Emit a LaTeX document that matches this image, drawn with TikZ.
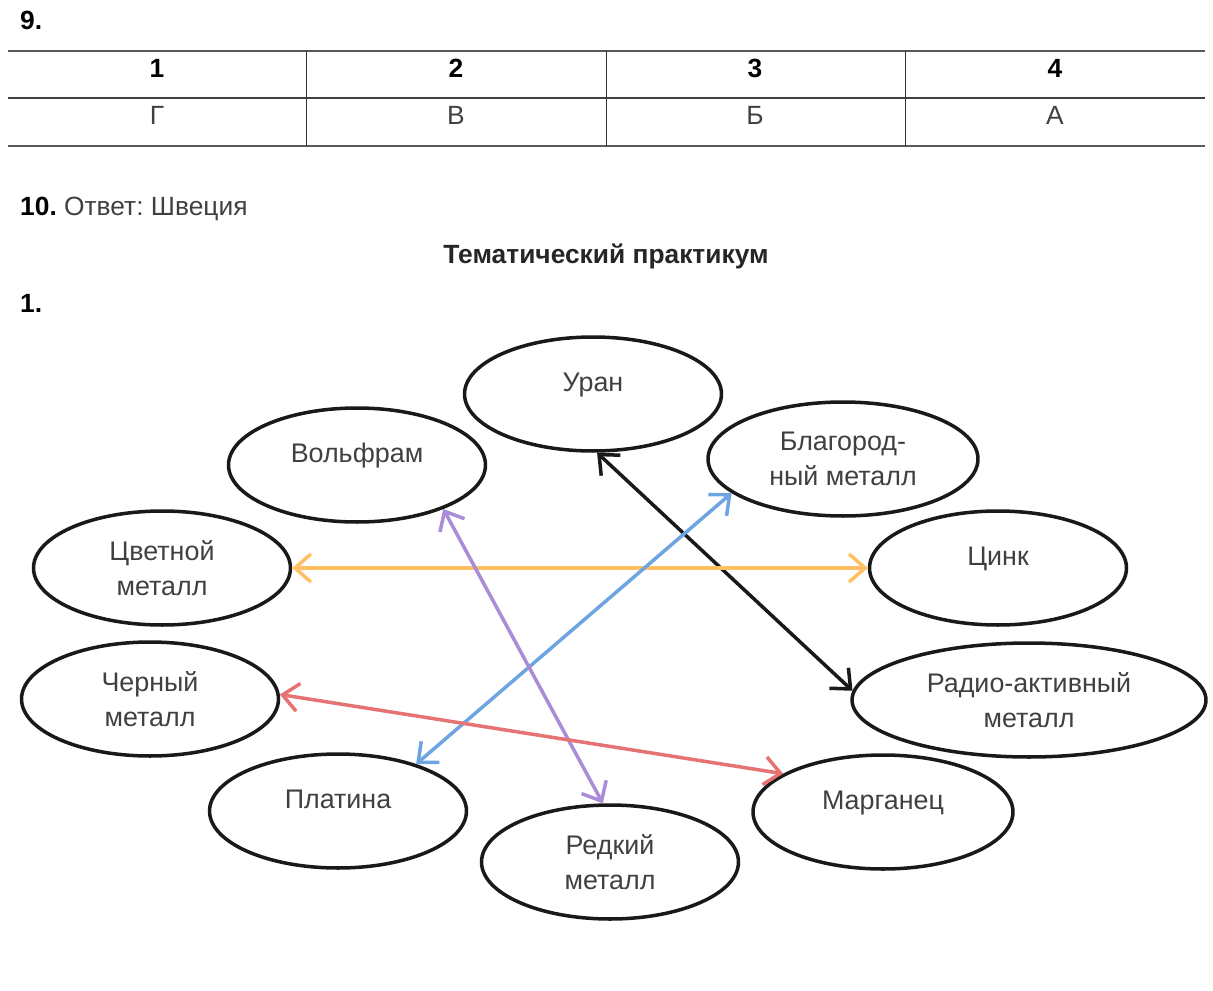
\documentclass[tikz,border=0pt]{standalone}
\usepackage{fontspec}
\setmainfont{Liberation Sans}
\usetikzlibrary{arrows.meta,shapes.geometric}
\frenchspacing
\definecolor{txtgray}{RGB}{64,64,64}
\definecolor{linkorange}{RGB}{255,192,100}
\definecolor{linkblue}{RGB}{110,165,225}
\definecolor{linkpurple}{RGB}{170,140,215}
\definecolor{linkred}{RGB}{230,115,115}
\tikzset{>/.tip={Straight Barb[length=3.2mm,width=5.6mm]},
  oval/.style={ellipse, draw=black!90, line width=2pt, minimum width=5.14cm,
    minimum height=2.28cm, inner sep=0pt, text=txtgray, align=center,
    font=\fontsize{15.3}{20}\selectfont},
  oneline/.style={text height=0.4cm, text depth=0.5cm},
  link/.style={<->, line width=2pt},
  tabhead/.style={font=\bfseries\fontsize{15}{18}\selectfont},
  tabcell/.style={text=txtgray, font=\fontsize{15}{18}\selectfont}}

\begin{document}
\begin{tikzpicture}[x=0.02cm, y=-0.02cm]
\useasboundingbox (0,0) rectangle (1213,990);

% task 9
\node[tabhead, anchor=west] (n9) at (14,20) {9.};
\draw[line width=1.3pt, black!65] (8,51) -- (1205,51);
\draw[line width=0.8pt, black!75] (8,98) -- (1205,98);
\draw[line width=1.3pt, black!65] (8,146) -- (1205,146);
\foreach \cx in {306,606,905}
  \draw[line width=0.5pt, black!80] (\cx,51) -- (\cx,146);
\foreach \n/\v/\cx in {1/Г/157, 2/В/456, 3/Б/755, 4/А/1055} {
  \node[tabhead] (h\n) at (\cx,68) {\n};
  \node[tabcell] (c\n) at (\cx,115) {\v};
}

% task 10
\node[tabcell, anchor=west] (ans10) at (14,209) {\textbf{\color{black}10.} Ответ: Швеция};
\node[tabhead, text=black!85] (theme) at (606,256) {Тематический практикум};
\node[tabhead, anchor=west] (n1) at (14,303) {1.};

% ovals
\node[oval, oneline] (uran) at (593,394) {Уран};
\node[oval, oneline] (volfram) at (357,465) {Вольфрам};
\node[oval, minimum width=5.4cm] (blagor) at (843,459) {Благород-\\ный металл};
\node[oval] (cvetn) at (162,568) {Цветной\\металл};
\node[oval, oneline] (cink) at (998,568) {Цинк};
\node[oval] (chern) at (150,699) {Черный\\металл};
\node[oval, minimum width=7.08cm] (radio) at (1029,700) {Радио-активный\\металл};
\node[oval, oneline] (platina) at (338,811) {Платина};
\node[oval, oneline, minimum width=5.2cm] (margan) at (883,812) {Марганец};
\node[oval] (redkij) at (610,862) {Редкий\\металл};

% links
\draw[link, black!90] (uran.-86) -- (radio.177);
\draw[link, linkorange] (cvetn.east) -- (cink.west);
\draw[link, linkblue] (platina.31) -- (blagor.-163);
\draw[link, linkpurple] (volfram.-27) -- (redkij.97);
\draw[link, linkred] (chern.2) -- (margan.159);
\end{tikzpicture}
\end{document}
